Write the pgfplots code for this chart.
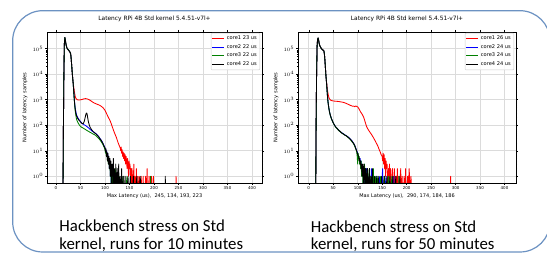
\documentclass[border=0pt]{standalone}
\usepackage{pgfplots}
\pgfplotsset{compat=1.18}
\usepackage{fontspec}
\setmainfont{DejaVu Sans}
\newfontfamily\capfont{Carlito}
\definecolor{boxblue}{RGB}{108,146,194}
\definecolor{mred}{RGB}{255,0,0}
\definecolor{mblue}{RGB}{0,0,255}
\definecolor{mgreen}{RGB}{0,128,0}
\pgfplotsset{
  lat/.style={
    scale only axis, height=151pt,
    ymin=0.547, ymax=4.47e5,
    xtick={0,50,...,400}, ytick={1,10,100,1000,10000,100000},
    grid=major, major grid style={gray!28, line width=0.7pt},
    axis line style={black, line width=0.5pt},
    tick align=outside, major tick length=2pt, minor tick length=1.2pt,
    tick style={black, line width=0.4pt},
    tick label style={font=\fontsize{4}{4.5}\selectfont},
    xticklabel style={inner sep=1pt},
    yticklabel style={inner sep=1.5pt},
    every axis x label/.style={at={(axis description cs:0.5,0)}, yshift=-13pt, anchor=center, font=\fontsize{5}{6}\selectfont},
    every axis y label/.style={at={(axis description cs:0,0.5)}, xshift=-22pt, rotate=90, anchor=center, font=\fontsize{5.1}{6}\selectfont},
    title style={at={(axis description cs:0.5,1)}, anchor=base, yshift=5.5pt, font=\fontsize{5.9}{7}\selectfont},
    title={Latency RPi 4B Std kernel 5.4.51-v7l+},
    ylabel={Number of latency samples},
    legend cell align=left,
    legend style={at={(axis description cs:1,1)}, anchor=north east, xshift=-2pt, yshift=-1pt,
      draw=gray!40, line width=0.4pt, rounded corners=1pt, fill=white, fill opacity=0.85, text opacity=1,
      font=\fontsize{5.1}{5.5}\selectfont, inner sep=1pt, row sep=-0.8pt},
    every axis plot/.append style={line width=0.85pt, line join=round},
  }
}
\begin{document}
\begin{tikzpicture}[x=1pt,y=1pt]
\useasboundingbox (0,0) rectangle (547,253);
\draw[boxblue, line width=1.2pt, rounded corners=30pt] (12.7,1) rectangle (550,242.3);

\begin{axis}[ymode=log, lat, at={(47pt,70pt)}, anchor=south west, width=215pt, xmin=-18.4, xmax=420.4,
  /pgf/number format/assume math mode=true,
  legend image code/.code={\draw[#1, line width=0.8pt] (0pt,0pt) -- (12pt,0pt);},
  xlabel={Max Latency (us),\ \ 245, 134, 193, 223}]
\addplot[mred] coordinates {(0,0.05)(13,0.05)(14,0.05)(15,50)(16,8000)(17,1.5e5)(18,2.7e5)(19,2.2e5)(20,1.6e5)(21,1.3e5)(22,1.1e5)(23,1e5)(24,9.5e4)(25,9e4)(26,8.5e4)(27,8e4)(28,7.5e4)(29,7e4)(30,6e4)(31,4e4)(32,2.2e4)(33,1.2e4)(34,7000)(35,4500)
(36,3200)(37,2400)(38,1800)(39,1400)(40,1200)(41,1100)(43,1000)(45,980)(48,970)(51,1000)(54,1030)(57,1080)(60,1100)(63,1080)(66,1030)(69,960)(72,880)(75,800)(78,740)(81,700)(84,660)(87,630)(90,590)(93,540)(96,480)(99,410)(101,350)(103,290)(105,240)(107,200)(109,170)(111,140)(113,110)(115,85)(117,66)(119,52)(121,42)(123,34)(125,26)(127,20)(129,16)(131,13)(132,10)(133,14)(134,8)(135,11)(136,6)(137,9)(138,5)(139,8)(140,4)(141,7)(142,3)(143,6)(144,4)(145,2)(146,5)(147,3)(148,1)(149,4)(150,2)(151,3)(152,1)(153,2)(154,0.05)(155,2)(156,1)(157,0.05)(158,1)(159,3)(160,0.05)(161,1)(162,0.05)(164,2)(165,0.05)(167,1)(168,0.05)(170,1)(171,0.05)(174,1)(175,0.05)(178,1)(179,0.05)(183,1)(184,0.05)(186,2)(187,0.05)(190,1)(191,0.05)(195,1)(196,0.05)(199,1)(200,0.05)(244,0.05)(245,1)(246,0.05)(400,0.05)};
\addlegendentry{core1 23 us}
\addplot[mblue] coordinates {(0,0.05)(13,0.05)(14,0.05)(15,50)(16,8000)(17,1.5e5)(18,2.7e5)(19,2.2e5)(20,1.6e5)(21,1.3e5)(22,1.1e5)(23,1e5)(24,9.5e4)(25,9e4)(26,8.5e4)(27,8e4)(28,7.5e4)(29,7e4)(30,6e4)(31,4e4)(32,2.2e4)(33,1.2e4)(34,7000)(35,4500)
(36,2500)(37,1300)(38,750)(39,500)(40,380)(41,300)(42,250)(44,205)(46,175)(48,155)(50,140)(52,125)(54,115)(56,108)(58,102)(60,98)(62,92)(64,86)(66,80)(68,74)(70,68)(72,63)(74,58)(76,55)(78,52)(80,49)(82,46)(84,42)(86,38)(88,34)(90,30)(92,26)(94,23)(96,19)(98,16)(100,13)(101,10)(102,11)(103,8)(104,9)(105,5)(106,7)(107,4)(108,5)(109,2)(110,4)(111,1)(112,3)(113,0.05)(114,2)(115,1)(116,2)(117,0.05)(119,1)(120,0.05)(122,1)(123,0.05)(126,1)(127,0.05)(133,0.05)(134,1)(135,0.05)(400,0.05)};
\addlegendentry{core2 22 us}
\addplot[mgreen] coordinates {(0,0.05)(13,0.05)(14,0.05)(15,50)(16,8000)(17,1.5e5)(18,2.7e5)(19,2.2e5)(20,1.6e5)(21,1.3e5)(22,1.1e5)(23,1e5)(24,9.5e4)(25,9e4)(26,8.5e4)(27,8e4)(28,7.5e4)(29,7e4)(30,6e4)(31,4e4)(32,2.2e4)(33,1.2e4)(34,7000)(35,4500)
(36,2300)(37,1200)(38,650)(39,400)(40,280)(41,210)(42,170)(44,135)(46,115)(48,100)(50,90)(52,84)(54,80)(56,76)(58,72)(60,68)(62,64)(64,61)(66,58)(68,55)(70,52)(72,50)(74,47)(76,45)(78,43)(80,41)(82,38)(84,35)(86,32)(88,29)(90,26)(92,23)(94,20)(96,17)(98,14)(100,11)(101,8)(102,10)(103,6)(104,8)(105,4)(106,6)(107,3)(108,5)(109,2)(110,3)(111,1)(112,2)(113,0.05)(114,1)(115,2)(116,0.05)(118,1)(119,0.05)(121,2)(122,0.05)(125,1)(126,0.05)(129,1)(130,0.05)(137,1)(138,0.05)(145,1)(146,0.05)(192,0.05)(193,1)(194,0.05)(400,0.05)};
\addlegendentry{core3 22 us}
\addplot[black] coordinates {(0,0.05)(13,0.05)(14,0.05)(15,50)(16,8000)(17,1.5e5)(18,2.7e5)(19,2.2e5)(20,1.6e5)(21,1.3e5)(22,1.1e5)(23,1e5)(24,9.5e4)(25,9e4)(26,8.5e4)(27,8e4)(28,7.5e4)(29,7e4)(30,6e4)(31,4e4)(32,2.2e4)(33,1.2e4)(34,7000)(35,4500)
(36,2400)(37,1250)(38,700)(39,450)(40,330)(41,270)(42,230)(44,190)(46,165)(48,148)(50,135)(52,122)(54,115)(56,118)(58,150)(60,220)(61,270)(62,300)(63,290)(64,240)(65,180)(66,140)(68,100)(70,80)(72,70)(74,62)(76,56)(78,52)(80,48)(82,45)(84,41)(86,37)(88,33)(90,29)(92,26)(94,22)(96,19)(98,15)(100,13)(101,9)(102,12)(103,6)(104,9)(105,4)(106,8)(107,3)(108,6)(109,2)(110,5)(111,1)(112,4)(113,2)(114,0.05)(115,3)(116,1)(117,5)(118,0.05)(119,2)(120,1)(121,0.05)(122,3)(123,0.05)(125,2)(126,0.05)(127,1)(128,3)(129,0.05)(131,1)(132,0.05)(134,2)(135,0.05)(137,1)(138,0.05)(141,1)(142,0.05)(147,1)(148,0.05)(152,1)(153,0.05)(158,1)(159,0.05)(165,1)(166,0.05)(172,1)(173,0.05)(222,0.05)(223,1)(224,0.05)(400,0.05)};
\addlegendentry{core4 22 us}
\end{axis}

\begin{axis}[ymode=log, lat, at={(298pt,70pt)}, anchor=south west, width=218pt, xmin=-22, xmax=423.5,
  /pgf/number format/assume math mode=true,
  legend image code/.code={\draw[#1, line width=0.8pt] (0pt,0pt) -- (12pt,0pt);},
  xlabel={Max Latency (us),\ \ 290, 174, 184, 186}]
\addplot[mred] coordinates {(0,0.05)(13,0.05)(14,0.05)(15,100)(16,1e4)(17,1.2e5)(18,2.3e5)(19,2.6e5)(20,2.2e5)(21,1.7e5)(22,1.4e5)(23,1.25e5)(24,1.15e5)(25,1.05e5)(26,1e5)(27,9.5e4)(28,9e4)(29,8.8e4)(30,8.5e4)(31,8e4)(32,6e4)(33,3.5e4)(34,1.8e4)(35,9000)(36,5500)
(37,3800)(38,2600)(39,1900)(40,1500)(41,1250)(42,1100)(44,980)(46,930)(49,900)(52,880)(55,870)(58,860)(61,850)(64,830)(67,810)(70,790)(73,760)(76,720)(79,680)(82,640)(85,600)(88,570)(90,550)(92,560)(94,530)(96,570)(98,540)(100,520)(102,460)(104,390)(106,330)(108,290)(110,250)(112,210)(114,160)(116,120)(118,90)(120,75)(122,65)(124,57)(126,50)(128,44)(130,38)(132,33)(134,28)(136,24)(138,20)(140,17)(142,14)(144,11)(146,9)(148,7)(150,6)(151,4)(152,8)(153,3)(154,7)(155,2)(156,5)(157,1)(158,4)(159,2)(160,3)(161,1)(162,0.05)(163,2)(164,1)(165,3)(166,0.05)(167,2)(168,1)(169,0.05)(171,2)(172,0.05)(174,1)(175,2)(176,0.05)(178,1)(179,0.05)(181,2)(182,0.05)(184,1)(185,0.05)(187,1)(188,2)(189,0.05)(191,1)(192,0.05)(195,1)(196,0.05)(198,2)(199,0.05)(202,1)(203,0.05)(205,2)(206,1)(207,0.05)(209,1)(210,0.05)(289,0.05)(290,1)(291,0.05)(400,0.05)};
\addlegendentry{core1 26 us}
\addplot[mblue] coordinates {(0,0.05)(13,0.05)(14,0.05)(15,100)(16,1e4)(17,1.2e5)(18,2.3e5)(19,2.6e5)(20,2.2e5)(21,1.7e5)(22,1.4e5)(23,1.25e5)(24,1.15e5)(25,1.05e5)(26,1e5)(27,9.5e4)(28,9e4)(29,8.8e4)(30,8.5e4)(31,8e4)(32,6e4)(33,3.5e4)(34,1.8e4)(35,9000)(36,5500)
(37,3000)(38,1600)(39,950)(40,650)(41,480)(42,370)(43,300)(44,250)(46,190)(48,150)(50,125)(52,105)(54,92)(56,82)(58,74)(60,67)(62,62)(64,57)(66,53)(68,50)(70,47)(72,44)(74,42)(76,40)(78,37)(80,35)(82,33)(84,30)(86,27)(88,25)(90,22)(92,19)(94,16)(96,13)(98,10)(100,8)(102,6)(104,4)(105,5)(106,3)(107,4)(108,2)(109,3)(110,1)(111,2)(112,0.05)(113,2)(114,1)(115,0.05)(117,1)(118,2)(119,0.05)(121,1)(122,0.05)(124,1)(125,0.05)(128,2)(129,0.05)(132,1)(133,0.05)(138,1)(139,0.05)(145,1)(146,0.05)(151,2)(152,0.05)(158,1)(159,0.05)(173,0.05)(174,1)(175,0.05)(400,0.05)};
\addlegendentry{core2 24 us}
\addplot[mgreen] coordinates {(0,0.05)(13,0.05)(14,0.05)(15,100)(16,1e4)(17,1.2e5)(18,2.3e5)(19,2.6e5)(20,2.2e5)(21,1.7e5)(22,1.4e5)(23,1.25e5)(24,1.15e5)(25,1.05e5)(26,1e5)(27,9.5e4)(28,9e4)(29,8.8e4)(30,8.5e4)(31,8e4)(32,6e4)(33,3.5e4)(34,1.8e4)(35,9000)(36,5500)
(37,2900)(38,1550)(39,920)(40,630)(41,470)(42,360)(43,290)(44,245)(46,185)(48,150)(50,122)(52,104)(54,90)(56,80)(58,73)(60,66)(62,60)(64,56)(66,52)(68,49)(70,46)(72,43)(74,41)(76,39)(78,36)(80,34)(82,31)(84,29)(86,26)(88,23)(90,21)(92,18)(94,15)(96,12)(98,9)(99,6)(100,3)(101,8)(102,5)(103,6)(104,3)(105,4)(106,2)(107,4)(108,1)(109,3)(110,2)(111,0.05)(112,2)(113,1)(114,3)(115,0.05)(116,2)(117,1)(118,0.05)(120,2)(121,1)(122,0.05)(124,2)(125,0.05)(127,1)(128,0.05)(131,1)(132,2)(133,0.05)(136,1)(137,0.05)(141,1)(142,0.05)(147,1)(148,0.05)(155,1)(156,0.05)(163,1)(164,0.05)(170,1)(171,0.05)(183,0.05)(184,1)(185,0.05)(400,0.05)};
\addlegendentry{core3 24 us}
\addplot[black] coordinates {(0,0.05)(13,0.05)(14,0.05)(15,100)(16,1e4)(17,1.2e5)(18,2.3e5)(19,2.6e5)(20,2.2e5)(21,1.7e5)(22,1.4e5)(23,1.25e5)(24,1.15e5)(25,1.05e5)(26,1e5)(27,9.5e4)(28,9e4)(29,8.8e4)(30,8.5e4)(31,8e4)(32,6e4)(33,3.5e4)(34,1.8e4)(35,9000)(36,5500)
(37,2950)(38,1580)(39,940)(40,640)(41,475)(42,365)(43,295)(44,248)(46,188)(48,152)(50,124)(52,106)(54,91)(56,81)(58,75)(60,68)(62,61)(64,58)(66,53)(68,48)(70,46)(72,44)(74,40)(76,39)(78,37)(80,34)(82,32)(84,29)(86,27)(88,24)(90,21)(92,19)(94,16)(96,12)(98,10)(100,7)(102,6)(103,4)(104,5)(105,3)(106,4)(107,2)(108,3)(109,1)(110,3)(111,2)(112,0.05)(113,3)(114,1)(115,2)(116,0.05)(117,2)(118,1)(119,0.05)(120,2)(121,0.05)(123,1)(124,2)(125,0.05)(127,1)(128,0.05)(130,2)(131,0.05)(134,1)(135,0.05)(139,1)(140,0.05)(143,1)(144,0.05)(149,1)(150,0.05)(154,1)(155,0.05)(160,1)(161,0.05)(166,1)(167,0.05)(172,1)(173,0.05)(178,1)(179,0.05)(185,0.05)(186,1)(187,0.05)(400,0.05)};
\addlegendentry{core4 24 us}
\end{axis}

\node[anchor=base west, inner sep=0pt, font=\capfont\fontsize{16.8}{17}\selectfont] at (59.3,21) {Hackbench stress on Std};
\node[anchor=base west, inner sep=0pt, font=\capfont\fontsize{16.8}{17}\selectfont] at (59.3,3.5) {kernel, runs for 10 minutes};
\node[anchor=base west, inner sep=0pt, font=\capfont\fontsize{16.8}{17}\selectfont] at (310.7,20) {Hackbench stress on Std};
\node[anchor=base west, inner sep=0pt, font=\capfont\fontsize{16.8}{17}\selectfont] at (310.7,3.1) {kernel, runs for 50 minutes};
\end{tikzpicture}
\end{document}
